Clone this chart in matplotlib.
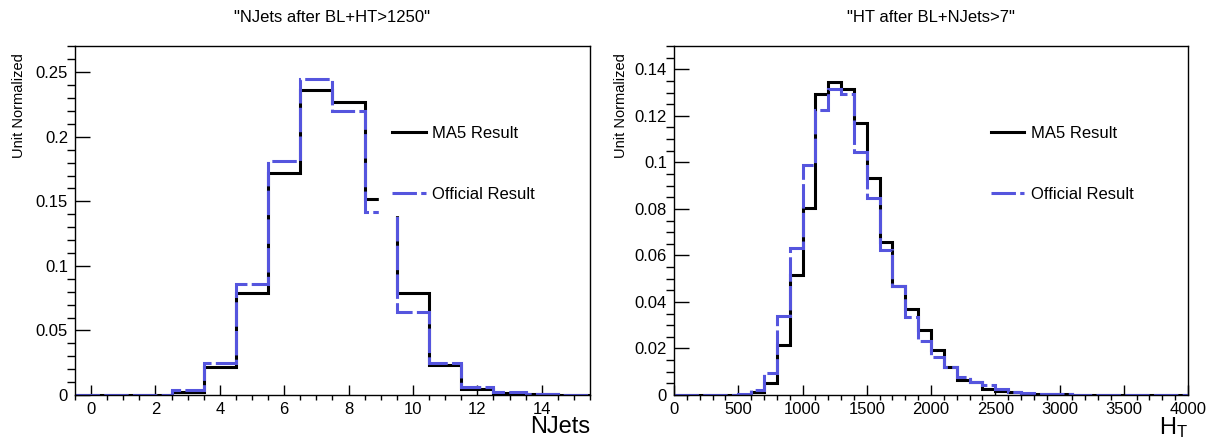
import matplotlib
matplotlib.use("Agg")
import matplotlib.pyplot as plt
import numpy as np

plt.rcParams['font.family'] = ['Liberation Sans', 'DejaVu Sans']

# NJets histogram (bins of width 1 centred on 0..15)
njets_edges = np.arange(-0.5, 16.0, 1.0)
ma5_njets = [0, 0, 0, 0.002, 0.022, 0.079, 0.172, 0.236, 0.227, 0.152,
             0.079, 0.023, 0.005, 0.0015, 0.0005, 0.0002]
off_njets = [0, 0, 0, 0.004, 0.0245, 0.086, 0.181, 0.245, 0.220, 0.142,
             0.064, 0.025, 0.0064, 0.002, 0.0006, 0.0003]

# HT histogram (bins of width 100 from 0 to 4000)
ht_edges = np.arange(0, 4001, 100)
ma5_ht = [0, 0, 0, 0, 0, 0.0002, 0.0014, 0.005, 0.0215, 0.0516,
          0.0805, 0.1294, 0.1344, 0.1314, 0.1168, 0.0932, 0.0659, 0.0469, 0.037, 0.028,
          0.0193, 0.0122, 0.0064, 0.0057, 0.0024, 0.0019, 0.0011, 0.0006, 0.0005, 0.0004,
          0.0003, 0.0002, 0.0002, 0.0001, 0.0002, 0.0001, 0.0001, 0.0001, 0.0001, 0.0001]
off_ht = [0, 0, 0, 0, 0, 0.0003, 0.0021, 0.0096, 0.034, 0.063,
          0.0989, 0.1225, 0.1314, 0.1294, 0.1046, 0.0845, 0.0623, 0.0469, 0.0334, 0.0232,
          0.0162, 0.0119, 0.0076, 0.0057, 0.0043, 0.0026, 0.0014, 0.0010, 0.0006, 0.0004,
          0.0003, 0.0002, 0.0002, 0.0001, 0.0001, 0.0001, 0.0001, 0.0001, 0, 0]

titles = ['"NJets after BL+HT>1250"', '"HT after BL+NJets>7"']
xlabels = ['NJets', r'$\mathregular{H_T}$']
labels = ['MA5 Result', 'Official Result']
blue = '#5555de'

fig = plt.figure(figsize=(12.11, 4.41), dpi=100)
ax1 = fig.add_axes([0.0619, 0.1043, 0.4253, 0.7914])
ax2 = fig.add_axes([0.5566, 0.1043, 0.4244, 0.7914])

fmt = matplotlib.ticker.FuncFormatter(lambda v, p: '%g' % round(v, 4))


def draw(ax, edges, ma5, off, xlim, ylim, xmaj, xmin, ymaj, ymin, title, xlabel, ylab_x):
    ax.stairs(ma5, edges, color='black', lw=2.2, baseline=0, label=labels[0], zorder=2)
    s = ax.stairs(off, edges, color=blue, lw=2.2, baseline=0, label=labels[1], zorder=2.5)
    s.set_linestyle((0, (8, 1.4)))
    ax.set_xlim(*xlim)
    ax.set_ylim(*ylim)
    ax.set_xticks(np.arange(0, xlim[1] + 1e-9, xmaj))
    ax.set_xticks(np.arange(np.ceil(xlim[0] / xmin) * xmin, xlim[1] + 1e-9, xmin), minor=True)
    ax.set_yticks(np.arange(0, ylim[1] + 1e-9, ymaj))
    ax.set_yticks(np.arange(0, ylim[1] + 1e-9, ymin), minor=True)
    ax.xaxis.set_major_formatter(fmt)
    ax.yaxis.set_major_formatter(fmt)
    ax.tick_params(direction='in', top=False, right=False, labelsize=12, pad=5)
    ax.tick_params(axis='y', which='major', length=11, width=1)
    ax.tick_params(axis='y', which='minor', length=5.5, width=1)
    ax.tick_params(axis='x', which='major', length=7.5, width=1)
    ax.tick_params(axis='x', which='minor', length=3.8, width=1)
    for sp in ax.spines.values():
        sp.set_linewidth(1.0)
    ax.set_title(title, fontsize=12, pad=17,
                 family=['Liberation Sans Narrow', 'Liberation Sans'])
    ax.set_xlabel(xlabel, loc='right', fontsize=17, labelpad=-1)
    ax.set_ylabel('Unit Normalized', loc='top', fontsize=10.5)
    ax.yaxis.set_label_coords(ylab_x, 0.98)
    leg = ax.legend(loc='lower left', bbox_to_anchor=(0.59, 0.515), borderaxespad=0,
                    fontsize=12, frameon=True, fancybox=False, framealpha=1,
                    facecolor='white', edgecolor='white', borderpad=0.8,
                    handlelength=2.0, handletextpad=0.4, labelspacing=2.75)
    leg.set_zorder(5)


draw(ax1, njets_edges, ma5_njets, off_njets, (-0.5, 15.5), (0, 0.2703),
     2, 0.5, 0.05, 0.01, titles[0], xlabels[0], -0.095)
draw(ax2, ht_edges, ma5_ht, off_ht, (0, 4000), (0, 0.15),
     500, 100, 0.02, 0.005, titles[1], xlabels[1], -0.09)

fig.savefig('out.png', dpi=100)
